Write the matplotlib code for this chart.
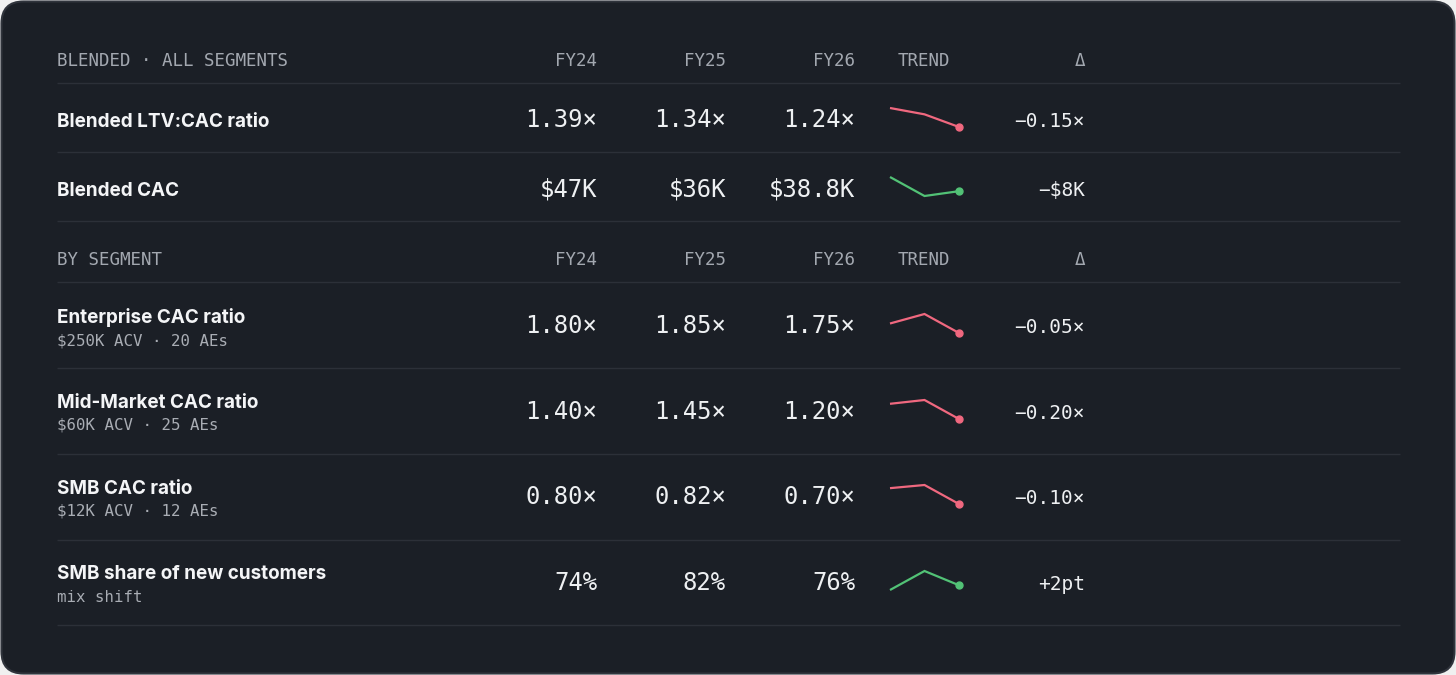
import matplotlib
matplotlib.use("Agg")
import matplotlib.pyplot as plt
from matplotlib.patches import FancyBboxPatch

# ---------------- data ----------------
section_titles = ["BLENDED · ALL SEGMENTS", "BY SEGMENT"]
col_headers = ["FY24", "FY25", "FY26"]
trend_header = "TREND"
delta_header = "Δ"

row_titles = ["Blended LTV:CAC ratio", "Blended CAC",
              "Enterprise CAC ratio", "Mid-Market CAC ratio",
              "SMB CAC ratio", "SMB share of new customers"]
row_subtitles = ["", "", "$250K ACV · 20 AEs", "$60K ACV · 25 AEs",
                 "$12K ACV · 12 AEs", "mix shift"]
row_values = [[1.39, 1.34, 1.24],
              [47, 36, 38.8],
              [1.80, 1.85, 1.75],
              [1.40, 1.45, 1.20],
              [0.80, 0.82, 0.70],
              [74, 82, 76]]
row_value_labels = [["1.39×", "1.34×", "1.24×"],
                    ["$47K", "$36K", "$38.8K"],
                    ["1.80×", "1.85×", "1.75×"],
                    ["1.40×", "1.45×", "1.20×"],
                    ["0.80×", "0.82×", "0.70×"],
                    ["74%", "82%", "76%"]]
row_deltas = ["−0.15×", "−$8K", "−0.05×", "−0.20×", "−0.10×", "+2pt"]
row_good = [False, True, False, False, False, True]

# ---------------- style ----------------
W, H = 1456, 675
BG_OUT = "#f0f0f0"
CARD = "#1b1f26"
CARD_EDGE = "#30343c"
RULE = "#2c3038"
HDR = "#a3a8b0"
TITLE = "#f4f5f7"
VAL = "#eef0f2"
SUB = "#a9adb4"
RED = "#f0687f"
GREEN = "#52c276"
MONO = ["DejaVu Sans Mono"]
SANS = ["Inter", "DejaVu Sans"]

fig = plt.figure(figsize=(W / 100, H / 100), dpi=100, facecolor=BG_OUT)
ax = fig.add_axes([0, 0, 1, 1])
ax.set_xlim(0, W)
ax.set_ylim(H, 0)
ax.axis("off")

card = FancyBboxPatch((1.5, 1.5), W - 3, H - 3,
                      boxstyle="round,pad=0,rounding_size=22",
                      facecolor=CARD, edgecolor=CARD_EDGE, linewidth=1.5)
ax.add_patch(card)

X_LEFT, X_RIGHT = 57, 1400
COL_X = [597, 726, 855]
TREND_X = 898
DELTA_X = 1085
SPARK_X0, SPARK_X1 = 890, 959
HDR_SIZE = 12.6

def rule(y):
    ax.plot([X_LEFT, X_RIGHT], [y, y], color=RULE, lw=1.0, solid_capstyle="butt")

def header(y_base, title):
    ax.text(X_LEFT, y_base, title, family=MONO, fontsize=HDR_SIZE, color=HDR,
            va="baseline", ha="left")
    for x, h in zip(COL_X, col_headers):
        ax.text(x, y_base, h, family=MONO, fontsize=HDR_SIZE, color=HDR,
                va="baseline", ha="right")
    ax.text(TREND_X, y_base, trend_header, family=MONO, fontsize=HDR_SIZE,
            color=HDR, va="baseline", ha="left")
    ax.text(DELTA_X, y_base, delta_header, family=MONO, fontsize=HDR_SIZE,
            color=HDR, va="baseline", ha="right")

# headers and rules
header(66, section_titles[0])
header(265, section_titles[1])
for y in [83, 152, 221, 282, 368, 454, 540, 625]:
    rule(y)

# row layout: value baseline, title baseline, subtitle baseline
value_base = [127, 196, 333, 419, 504, 590]
title_base = [127, 196, 323, 408, 494, 579]
sub_base = [None, None, 345, 430, 516, 602]

for i in range(len(row_titles)):
    ax.text(X_LEFT, title_base[i], row_titles[i], family=SANS, weight="bold",
            fontsize=13.6, color=TITLE, va="baseline", ha="left")
    if row_subtitles[i]:
        ax.text(X_LEFT, sub_base[i], row_subtitles[i], family=MONO,
                fontsize=11.3, color=SUB, va="baseline", ha="left")
    for x, lab in zip(COL_X, row_value_labels[i]):
        ax.text(x, value_base[i], lab, family=MONO, fontsize=17.2, color=VAL,
                va="baseline", ha="right")
    ax.text(DELTA_X, value_base[i], row_deltas[i], family=MONO, fontsize=14,
            color=VAL, va="baseline", ha="right")

    # sparkline in its own small axes
    vals = row_values[i]
    col = GREEN if row_good[i] else RED
    bot = value_base[i]
    top = bot - 19
    sax = fig.add_axes([SPARK_X0 / W, 1 - bot / H,
                        (SPARK_X1 - SPARK_X0) / W, (bot - top) / H])
    sax.set_facecolor("none")
    xs = list(range(len(vals)))
    sax.plot(xs, vals, color=col, lw=1.6, clip_on=False,
             solid_joinstyle="miter", solid_capstyle="butt")
    sax.plot(xs[-1:], vals[-1:], "o", color=col, ms=5, clip_on=False)
    sax.set_xlim(0, len(vals) - 1)
    sax.set_ylim(min(vals), max(vals))
    sax.axis("off")

fig.savefig("out.png", dpi=100, facecolor=BG_OUT)
